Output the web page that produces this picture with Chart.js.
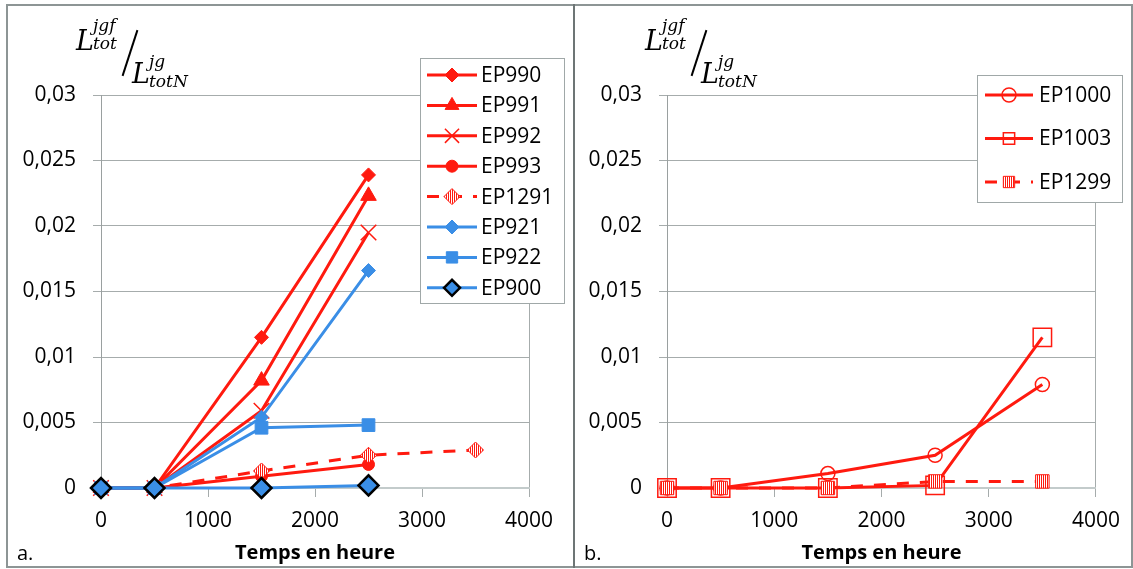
<!DOCTYPE html>
<html>
<head>
<meta charset="utf-8">
<script src="https://cdn.jsdelivr.net/npm/chart.js@4/dist/chart.umd.min.js"></script>
<style>
  html, body { margin: 0; padding: 0; background: #fff; }
  body { width: 1133px; height: 569px; position: relative; overflow: hidden; font-family: "Open Sans", sans-serif; }
  #frame { position: absolute; left: 6px; top: 4px; width: 1123px; height: 560px; border: 2px solid #8d9595; }
  #divider { position: absolute; left: 573px; top: 4px; width: 2px; height: 564px; background: #6d7575; }
  canvas { position: absolute; top: 6px; }
  #chartA { left: 8px; }
  #chartB { left: 575px; }
  .ytitle { position: absolute; top: 0; width: 140px; height: 95px; font-family: "DejaVu Serif", serif; font-style: italic; color: #000; }
  .ytitle span { position: absolute; line-height: 1; white-space: nowrap; }
  .ytitle .big { font-size: 27px; }
  .ytitle .small { font-size: 17px; }
  .ytitle .slash { position: absolute; left: 129px; top: 29px; width: 2px; height: 48px; background: #000; transform: rotate(18deg); }
  .panel { position: absolute; top: 540px; font-size: 20px; line-height: 26px; color: #000; }
</style>
</head>
<body>
<div id="frame"></div>
<div id="divider"></div>
<canvas id="chartA" width="565" height="560"></canvas>
<canvas id="chartB" width="556" height="560"></canvas>

<div class="ytitle" style="left:0px">
  <span class="big" style="left:76px; top:27px">L</span>
  <span class="small" style="left:93px; top:17px">jgf</span>
  <span class="small" style="left:93px; top:35px">tot</span>
  <div class="slash"></div>
  <span class="big" style="left:132px; top:60px">L</span>
  <span class="small" style="left:149px; top:53px">jg</span>
  <span class="small" style="left:149px; top:73px">totN</span>
</div>
<div class="ytitle" style="left:569px">
  <span class="big" style="left:76px; top:27px">L</span>
  <span class="small" style="left:93px; top:17px">jgf</span>
  <span class="small" style="left:93px; top:35px">tot</span>
  <div class="slash"></div>
  <span class="big" style="left:132px; top:60px">L</span>
  <span class="small" style="left:149px; top:53px">jg</span>
  <span class="small" style="left:149px; top:73px">totN</span>
</div>
<div class="panel" style="left:17px">a.</div>
<div class="panel" style="left:584px">b.</div>

<script>
// values (hours / ratio)
const hoursA = [0, 500, 1500, 2500];
const hoursA1291 = [0, 500, 1500, 2500, 3500];
const hoursB = [0, 500, 1500, 2500, 3500];

const ep990 = [0, 0, 0.0115, 0.0239];
const ep991 = [0, 0, 0.0082, 0.0223];
const ep992 = [0, 0, 0.0059, 0.0195];
const ep993 = [0, 0, 0.0009, 0.0018];
const ep1291 = [0, 0, 0.0013, 0.0025, 0.0029];
const ep921 = [0, 0, 0.0054, 0.0166];
const ep922 = [0, 0, 0.0046, 0.0048];
const ep900 = [0, 0, 0, 0.0002];

const ep1000 = [0, 0, 0.0011, 0.0025, 0.0079];
const ep1003 = [0, 0, 0, 0.0002, 0.0115];
const ep1299 = [0, 0, 0, 0.0005, 0.0005];

const xTickLabels = ["0", "1000", "2000", "3000", "4000"];
const yTickLabels = ["0", "0,005", "0,01", "0,015", "0,02", "0,025", "0,03"];

const RED = "#ff1a0f";
const BLUE = "#3a8ee6";
const GRID = "#a6acac";
const FONT = "'Open Sans', sans-serif";

function pts(xs, ys) {
    return ys.map((y, i) => ({ x: xs[i], y: y }));
}

// red vertical hatch used by EP1291 / EP1299 markers
function hatch() {
    const c = document.createElement("canvas");
    c.width = 2; c.height = 2;
    const g = c.getContext("2d");
    g.fillStyle = "#ffffff";
    g.fillRect(0, 0, 2, 2);
    g.fillStyle = RED;
    g.fillRect(0, 0, 1, 2);
    return g.createPattern(c, "repeat");
}
const HATCH = hatch();

function series(label, xs, ys, color, style, radius, extra) {
    return Object.assign({
        label: label,
        data: pts(xs, ys),
        borderColor: color,
        borderWidth: 3,
        pointStyle: style,
        pointRadius: radius,
        pointBackgroundColor: color,
        pointBorderColor: color,
        pointBorderWidth: 1,
        tension: 0,
        clip: false
    }, extra || {});
}

// legend drawn inside the plot, with a white box like the original
const boxLegend = {
    id: "boxLegend",
    afterDraw(chart, args, opts) {
        const ctx = chart.ctx;
        ctx.save();
        ctx.fillStyle = "#ffffff";
        ctx.fillRect(opts.x, opts.y, opts.w, opts.h);
        ctx.strokeStyle = "#a0a8a8";
        ctx.lineWidth = 1;
        ctx.strokeRect(opts.x + 0.5, opts.y + 0.5, opts.w, opts.h);
        chart.data.datasets.forEach((ds, i) => {
            const cy = opts.y + opts.first + i * opts.gap;
            const x0 = opts.x + opts.lineX;
            const x1 = x0 + opts.lineLen;
            ctx.strokeStyle = ds.borderColor;
            ctx.lineWidth = 3;
            ctx.setLineDash(ds.borderDash || []);
            ctx.beginPath();
            ctx.moveTo(x0, cy);
            ctx.lineTo(x1, cy);
            ctx.stroke();
            ctx.setLineDash([]);
            ctx.fillStyle = ds.pointBackgroundColor;
            ctx.strokeStyle = ds.pointBorderColor;
            ctx.lineWidth = ds.pointBorderWidth;
            Chart.helpers.drawPoint(ctx, {
                pointStyle: ds.pointStyle,
                radius: Math.min(ds.pointRadius, ds.legendRadius || 8),
                rotation: 0,
                borderWidth: ds.pointBorderWidth
            }, (x0 + x1) / 2, cy);
            ctx.fillStyle = "#000";
            ctx.font = "21px " + FONT;
            ctx.textBaseline = "middle";
            ctx.textAlign = "left";
            ctx.fillText(ds.label, x1 + opts.textGap, cy + 1);
        });
        ctx.restore();
    }
};

function makeOptions(yWidth, padRight, legend) {
    return {
        responsive: false,
        animation: false,
        layout: { padding: { left: 0, right: padRight, top: 89, bottom: 0 } },
        plugins: {
            legend: { display: false },
            tooltip: { enabled: false },
            boxLegend: legend
        },
        scales: {
            x: {
                type: "linear",
                min: 0,
                max: 4000,
                afterFit: s => { s.height = 78; },
                ticks: {
                    stepSize: 1000,
                    color: "#000",
                    padding: 11,
                    font: { family: FONT, size: 21 },
                    callback: (v, i) => xTickLabels[i]
                },
                grid: {
                    color: c => (c.tick && c.tick.value === 4000) ? GRID : "rgba(0,0,0,0)",
                    tickColor: GRID,
                    tickLength: 9,
                    lineWidth: 1
                },
                border: { color: "#c3cbcb", width: 2 },
                title: {
                    display: true,
                    text: "Temps en heure",
                    color: "#000",
                    font: { family: FONT, size: 20, weight: "bold" },
                    padding: { top: 0, bottom: 1 }
                }
            },
            y: {
                min: 0,
                max: 0.03,
                afterFit: s => { s.width = yWidth; },
                ticks: {
                    stepSize: 0.005,
                    color: "#000",
                    padding: 17,
                    font: { family: FONT, size: 21 },
                    callback: (v, i) => yTickLabels[i]
                },
                grid: { color: GRID, tickColor: GRID, tickLength: 8, lineWidth: 1 },
                border: { color: "#9aa0a0", width: 1 }
            }
        }
    };
}

// later series drawn on top, as in the original
function stack(list) {
    list.forEach((d, i) => { d.order = list.length - i; });
    return list;
}

document.addEventListener("DOMContentLoaded", function () {
    const dataA = stack([
        series("EP990", hoursA, ep990, RED, "rectRot", 7),
        series("EP991", hoursA, ep991, RED, "triangle", 9),
        series("EP992", hoursA, ep992, RED, "crossRot", 11, { pointBorderWidth: 1.5, legendRadius: 10 }),
        series("EP993", hoursA, ep993, RED, "circle", 6),
        series("EP1291", hoursA1291, ep1291, RED, "rectRot", 8, { borderDash: [12, 11], pointBackgroundColor: HATCH }),
        series("EP921", hoursA, ep921, BLUE, "rectRot", 7),
        series("EP922", hoursA, ep922, BLUE, "rect", 9),
        series("EP900", hoursA, ep900, BLUE, "rectRot", 10, { pointBorderColor: "#000", pointBorderWidth: 2.5 })
    ]);
    new Chart(document.getElementById("chartA").getContext("2d"), {
        type: "line",
        data: { datasets: dataA },
        options: makeOptions(93, 44, { x: 412, y: 52, w: 144, h: 245, first: 17, gap: 30.4, lineX: 7, lineLen: 50, textGap: 4 }),
        plugins: [boxLegend]
    });

    const dataB = stack([
        series("EP1000", hoursB, ep1000, RED, "circle", 7, { pointBackgroundColor: "rgba(255,255,255,0)", pointBorderWidth: 1.5 }),
        series("EP1003", hoursB, ep1003, RED, "rect", 13, { pointBackgroundColor: "rgba(255,255,255,0)", pointBorderWidth: 1.5 }),
        series("EP1299", hoursB, ep1299, RED, "rect", 9.5, { borderDash: [12, 11], pointBackgroundColor: HATCH })
    ]);
    new Chart(document.getElementById("chartB").getContext("2d"), {
        type: "line",
        data: { datasets: dataB },
        options: makeOptions(92, 35, { x: 402, y: 69, w: 145, h: 127, first: 20, gap: 43.5, lineX: 8, lineLen: 48, textGap: 6 }),
        plugins: [boxLegend]
    });
});
</script>
</body>
</html>
